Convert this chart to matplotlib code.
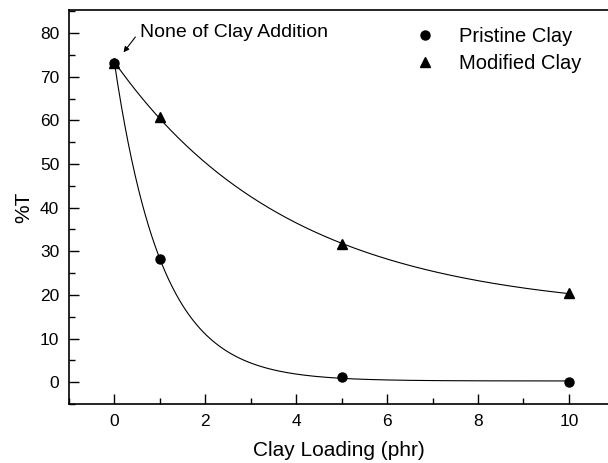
import numpy as np
import matplotlib
matplotlib.use("Agg")
import matplotlib.pyplot as plt
from matplotlib.ticker import MultipleLocator

plt.rcParams['font.family'] = ['Liberation Sans', 'DejaVu Sans']

loading = [0, 1, 5, 10]
pristine = [73.2, 28.2, 1.2, 0.0]
modified = [73.2, 60.7, 31.6, 20.4]


def exp_fit(x, y):
    x = np.asarray(x, float)
    y = np.asarray(y, float)
    best = None
    for t in np.linspace(0.2, 15, 3000):
        M = np.column_stack([np.ones_like(x), np.exp(-x / t)])
        coef, *_ = np.linalg.lstsq(M, y, rcond=None)
        err = np.sum((M @ coef - y) ** 2)
        if best is None or err < best[0]:
            best = (err, t, coef)
    _, t, coef = best
    return lambda xx: coef[0] + coef[1] * np.exp(-xx / t)


fig = plt.figure(figsize=(6.08, 4.63), dpi=100)
ax = fig.add_axes([69 / 608, 59 / 463, 1 - 69 / 608, 394 / 463])

xs = np.linspace(0, 10, 400)
fp = exp_fit(loading, pristine)
fm = exp_fit(loading, modified)
ax.plot(xs, fp(xs), color='black', lw=0.8)
ax.plot(xs, fm(xs), color='black', lw=0.8)
ax.plot(loading, pristine, 'o', color='black', ms=6.5, label='Pristine Clay')
ax.plot(loading, modified, '^', color='black', ms=7, label='Modified Clay')

ax.set_xlim(-1, 10.86)
ax.set_ylim(-5, 85.3)
ax.xaxis.set_major_locator(MultipleLocator(2))
ax.xaxis.set_minor_locator(MultipleLocator(1))
ax.yaxis.set_major_locator(MultipleLocator(10))
ax.yaxis.set_minor_locator(MultipleLocator(5))
ax.set_yticks(np.arange(0, 81, 10))
ax.set_xticks(np.arange(0, 11, 2))
ax.tick_params(which='major', direction='in', length=7, width=1, labelsize=12.5, pad=7)
ax.tick_params(which='minor', direction='in', length=4, width=1)
ax.spines['right'].set_visible(False)
for s in ['left', 'bottom', 'top']:
    ax.spines[s].set_linewidth(1.2)

ax.set_xlabel('Clay Loading (phr)', fontsize=15, labelpad=9)
ax.set_ylabel('%T', fontsize=15, labelpad=5)

ax.annotate('', xy=(0.2, 75.6), xytext=(0.46, 79.1),
            arrowprops=dict(arrowstyle='-|>', color='black', lw=0.8,
                            mutation_scale=8, shrinkA=0, shrinkB=0))
ax.text(0.57, 80.2, 'None of Clay Addition', fontsize=14, va='center', ha='left')

ax.legend(loc='upper left', bbox_to_anchor=(409 / 608, 1 - 27 / 463),
          bbox_transform=fig.transFigure, frameon=False,
          fontsize=14.5, handlelength=1.6, handletextpad=0.9,
          labelspacing=0.4, borderaxespad=0, borderpad=0)

fig.savefig('out.png', dpi=100)
